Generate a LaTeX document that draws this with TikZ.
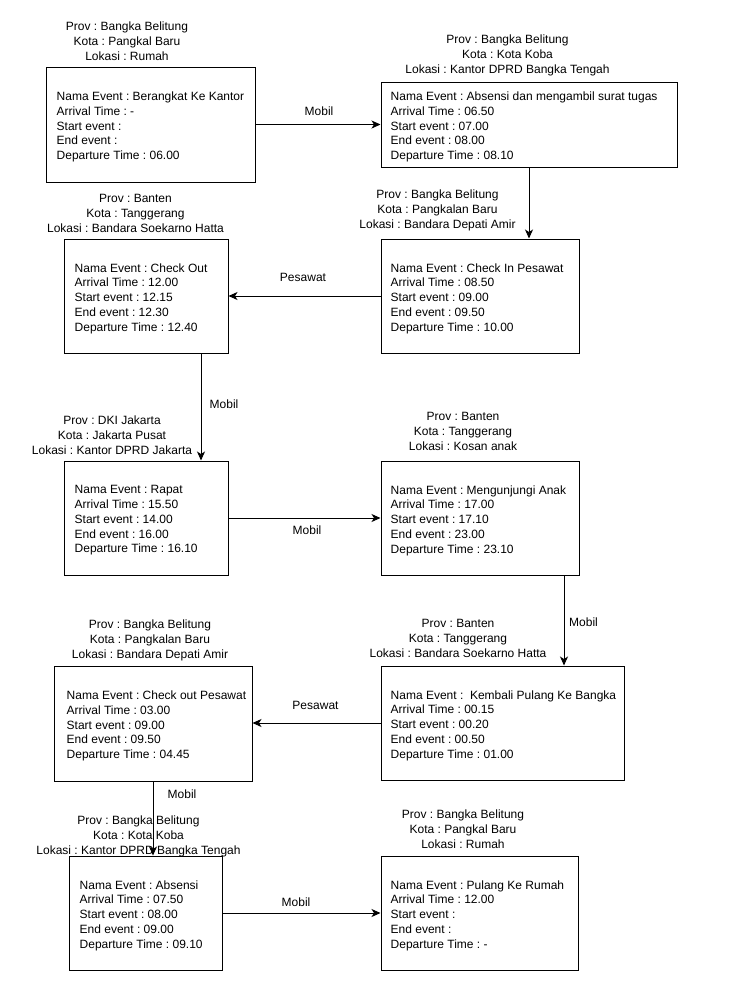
\documentclass[tikz,border=0pt]{standalone}
\usepackage{fontspec}
\setmainfont{Liberation Sans}
\usetikzlibrary{arrows.meta,calc}
\frenchspacing
\newcommand\evnode[7]{%
  \node[evbox, minimum width={#4-#2}, minimum height={#5-#3}] (#1) at ({(#2+#4)/2},{(#3+#5)/2}) {};
  \node[evtext, anchor=west] (#1t) at ([xshift=#6pt, yshift=-2.5pt]#1.west) {#7};}
\tikzset{
  evbox/.style={draw, line width=1pt, inner sep=0pt, rectangle},
  evtext/.style={align=left, inner sep=0pt, font=\fontsize{12}{14.7}\selectfont\frenchspacing},
  loc/.style={align=center, inner sep=0pt, font=\fontsize{12}{15}\selectfont\frenchspacing},
  lbl/.style={inner sep=0pt, font=\fontsize{12}{14}\selectfont},
  conn/.style={line width=1pt, -{Stealth[length=9pt,width=8pt,inset=2.5pt]}}
}
\begin{document}
\begin{tikzpicture}[x=1pt,y=-1pt]
\useasboundingbox[fill=white] (0,0) rectangle (740,986);

\evnode{A}{46}{67}{255}{182}{11}{Nama Event : Berangkat Ke Kantor\\Arrival Time : -\\Start event :\\End event :\\Departure Time : 06.00}
\evnode{B}{381}{82}{677}{167}{10}{Nama Event : Absensi dan mengambil surat tugas\\Arrival Time : 06.50\\Start event : 07.00\\End event : 08.00\\Departure Time : 08.10}
\evnode{C}{381}{239}{579}{353}{10}{Nama Event : Check In Pesawat\\Arrival Time : 08.50\\Start event : 09.00\\End event : 09.50\\Departure Time : 10.00}
\evnode{D}{64}{239}{228}{353}{11}{Nama Event : Check Out\\Arrival Time : 12.00\\Start event : 12.15\\End event : 12.30\\Departure Time : 12.40}
\evnode{E}{64}{461}{228}{575}{11}{Nama Event : Rapat\\Arrival Time : 15.50\\Start event : 14.00\\End event : 16.00\\Departure Time : 16.10}
\evnode{F}{381}{461}{579}{575}{10}{Nama Event : Mengunjungi Anak\\Arrival Time : 17.00\\Start event : 17.10\\End event : 23.00\\Departure Time : 23.10}
\evnode{G}{381}{666}{624}{780}{10}{Nama Event :\ \ Kembali Pulang Ke Bangka\\Arrival Time : 00.15\\Start event : 00.20\\End event : 00.50\\Departure Time : 01.00}
\evnode{H}{54}{666}{252}{781}{13}{Nama Event : Check out Pesawat\\Arrival Time : 03.00\\Start event : 09.00\\End event : 09.50\\Departure Time : 04.45}
\evnode{I}{69}{856}{222}{970}{11}{Nama Event : Absensi\\Arrival Time : 07.50\\Start event : 08.00\\End event : 09.00\\Departure Time : 09.10}
\evnode{J}{381}{856}{578}{970}{10}{Nama Event : Pulang Ke Rumah\\Arrival Time : 12.00\\Start event :\\End event :\\Departure Time : -}

% location labels
\node[loc] (Al) at (127,41) {Prov : Bangka Belitung\\Kota : Pangkal Baru\\Lokasi : Rumah};
\node[loc] (Bl) at (507.5,55) {Prov : Bangka Belitung\\Kota : Kota Koba\\Lokasi : Kantor DPRD Bangka Tengah};
\node[loc] (Cl) at (437.5,210) {Prov : Bangka Belitung\\Kota : Pangkalan Baru\\Lokasi : Bandara Depati Amir};
\node[loc] (Dl) at (135.5,213) {Prov : Banten\\Kota : Tanggerang\\Lokasi : Bandara Soekarno Hatta};
\node[loc] (El) at (112,435) {Prov : DKI Jakarta\\Kota : Jakarta Pusat\\Lokasi : Kantor DPRD Jakarta};
\node[loc] (Fl) at (463,431) {Prov : Banten\\Kota : Tanggerang\\Lokasi : Kosan anak};
\node[loc] (Gl) at (458,638) {Prov : Banten\\Kota : Tanggerang\\Lokasi : Bandara Soekarno Hatta};
\node[loc] (Hl) at (150,640) {Prov : Bangka Belitung\\Kota : Pangkalan Baru\\Lokasi : Bandara Depati Amir};
\node[loc] (Il) at (138.5,836) {Prov : Bangka Belitung\\Kota : Kota Koba\\Lokasi : Kantor DPRD Bangka Tengah};
\node[loc] (Jl) at (463,829) {Prov : Bangka Belitung\\Kota : Pangkal Baru\\Lokasi : Rumah};

% connector columns
\coordinate (xBC) at (529,0);
\coordinate (xDE) at (201,0);
\coordinate (xFG) at (564,0);
\coordinate (xHI) at (153,0);

% connectors
\draw[conn] (A.east) -- (B.west |- A.east);
\draw[conn] (B.south -| xBC) -- (C.north -| xBC);
\draw[conn] (C.west) -- (D.east |- C.west);
\draw[conn] (D.south -| xDE) -- (E.north -| xDE);
\draw[conn] (E.east) -- (F.west |- E.east);
\draw[conn] (F.south -| xFG) -- (G.north -| xFG);
\draw[conn] (G.west) -- (H.east |- G.west);
\draw[conn] (H.south -| xHI) -- (I.north -| xHI);
\draw[conn] (I.east) -- (J.west |- I.east);

% connector labels
\node[lbl] (mAB) at (319,111) {Mobil};
\node[lbl] (pCD) at (303,277) {Pesawat};
\node[lbl] (mDE) at (224,404) {Mobil};
\node[lbl] (mEF) at (307,530) {Mobil};
\node[lbl] (mFG) at (583.5,622) {Mobil};
\node[lbl] (pGH) at (315.5,705) {Pesawat};
\node[lbl] (mHI) at (182,794) {Mobil};
\node[lbl] (mIJ) at (296,902) {Mobil};
\end{tikzpicture}
\end{document}
